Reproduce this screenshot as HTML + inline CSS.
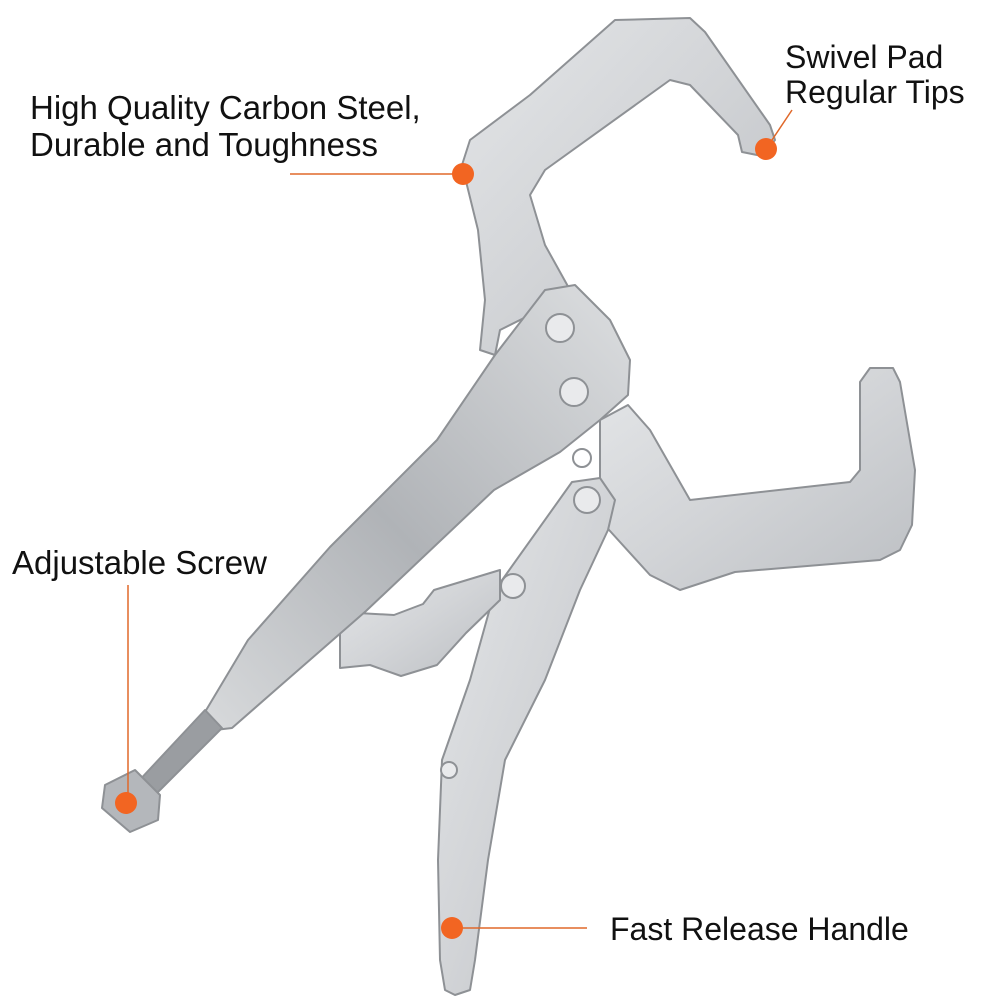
<!DOCTYPE html>
<html><head><meta charset="utf-8"><style>
html,body{margin:0;padding:0;background:#fff;}
svg{display:block}
text{font-family:"Liberation Sans",sans-serif;font-size:33px;fill:#111;}
</style></head><body>
<svg width="1000" height="1000" viewBox="0 0 1000 1000">
<defs>
<linearGradient id="g" x1="0" y1="0" x2="1" y2="1">
<stop offset="0" stop-color="#e4e6e8"/><stop offset="0.5" stop-color="#d2d4d7"/><stop offset="1" stop-color="#bcbfc3"/>
</linearGradient>
<linearGradient id="h" x1="0" y1="1" x2="1" y2="0">
<stop offset="0" stop-color="#d8dadc"/><stop offset="0.45" stop-color="#b0b3b7"/><stop offset="1" stop-color="#dcdee0"/>
</linearGradient>
</defs>
<g stroke="#8e9195" stroke-width="2" stroke-linejoin="round">
<!-- lower C jaw -->
<path d="M600,420 L628,405 L650,430 L690,500 L850,482 L860,470 L860,382 L870,368 L893,368 L900,382 L915,470 L912,525 L900,550 L880,560 L735,572 L680,590 L650,575 L600,520 Z" fill="url(#g)"/>
<!-- upper C jaw -->
<path d="M462,165 L470,140 L530,95 L615,20 L690,18 L705,32 L770,125 L775,140 L762,156 L742,152 L738,135 L690,85 L670,80 L545,170 L530,195 L545,245 L570,290 L560,300 L500,330 L495,355 L480,350 L485,300 L478,230 Z" fill="url(#g)"/>
<!-- lower handle -->
<path d="M572,482 L600,478 L615,500 L608,530 L580,590 L545,680 L505,760 L488,860 L475,960 L470,990 L455,995 L445,990 L440,960 L438,860 L442,760 L470,680 L495,590 Z" fill="url(#g)"/>
<!-- link -->
<path d="M340,612 L394,615 L423,604 L434,590 L500,570 L500,600 L466,633 L437,665 L401,676 L370,665 L340,668 Z" fill="url(#g)"/>
<!-- main handle -->
<path d="M545,290 L575,285 L610,320 L630,360 L628,395 L600,420 L560,452 L494,490 L366,611 L280,686 L232,728 L215,730 L205,712 L248,640 L330,547 L437,440 L495,355 Z" fill="url(#h)"/>
<!-- screw -->
<path d="M205,710 L222,728 L150,800 L135,785 Z" fill="#9a9da1"/>
<path d="M105,785 L135,770 L160,795 L158,820 L130,832 L102,808 Z" fill="#b4b7bb"/>
<!-- rivets -->
<circle cx="560" cy="328" r="14" fill="#e9eaec"/>
<circle cx="574" cy="392" r="14" fill="#e9eaec"/>
<circle cx="582" cy="458" r="9" fill="#fff"/>
<circle cx="587" cy="500" r="13" fill="#e9eaec"/>
<circle cx="513" cy="586" r="12" fill="#e9eaec"/>
<circle cx="449" cy="770" r="8" fill="#e9eaec"/>
</g>
<!-- callouts -->
<g stroke="#e0682a" stroke-width="1.5" fill="none">
<line x1="290" y1="174" x2="463" y2="174"/>
<line x1="766" y1="149" x2="792" y2="110"/>
<line x1="128" y1="585" x2="128" y2="803"/>
<line x1="452" y1="928" x2="587" y2="928"/>
</g>
<g fill="#f26522">
<circle cx="463" cy="174" r="11"/>
<circle cx="766" cy="149" r="11"/>
<circle cx="126" cy="803" r="11"/>
<circle cx="452" cy="928" r="11"/>
</g>
<text x="30" y="119">High Quality Carbon Steel,</text>
<text x="30" y="156">Durable and Toughness</text>
<text x="785" y="68" style="font-size:32px">Swivel Pad</text>
<text x="785" y="103" style="font-size:32px">Regular Tips</text>
<text x="12" y="574">Adjustable Screw</text>
<text x="610" y="940" style="font-size:32px">Fast Release Handle</text>
</svg>
</body></html>
